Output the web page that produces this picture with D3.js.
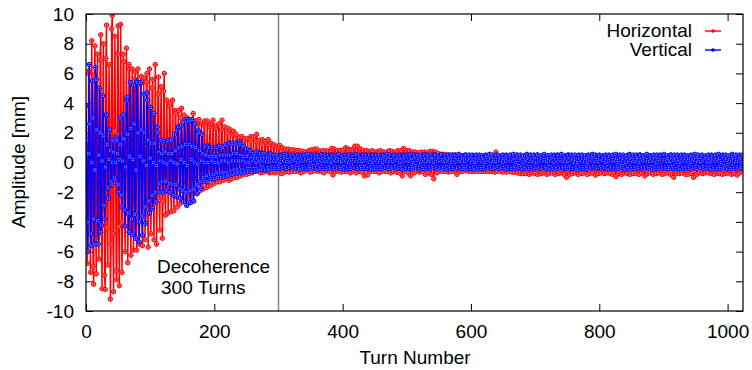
<!DOCTYPE html>
<html><head><meta charset="utf-8">
<script src="https://cdn.jsdelivr.net/npm/d3@7"></script>
<style>body{margin:0;background:#fff}svg{display:block}text{font-family:"Liberation Sans",Arial,sans-serif;fill:#000}</style>
</head><body><svg id="c" width="752" height="370"></svg>
<script>
const turnStep = 1;
const xTicks = [0, 200, 400, 600, 800, 1000];
const yTicks = [-10, -8, -6, -4, -2, 0, 2, 4, 6, 8, 10];
const seriesNames = ["Horizontal", "Vertical"];
const decoherenceTurn = 300;

// Horizontal amplitude per turn (mm)
const horizontal = [
 0.2,1.5,-6.8,-3.6,6.0,6.2,-3.8,-7.4,1.6, 8.2,1.8,-7.0,-8.2,5.9,7.85,-4.0,-7.5,1.5,
 7.3,1.4,-6.5,-4.1,6.9,8.6,-4.3,-8.5,1.7, 8.0,1.7,-7.6,-8.55,7.0,9.25,-4.4,-6.9,1.8,
 6.6,2.0,-9.2,-5.5,9.0,9.9,-4.8,-8.7,2.1, 8.5,1.5,-7.3,-7.9,7.3,9.2,-4.3,-8.3,1.9,
 9.3,1.6,-7.4,-4.0,7.3,6.8,-3.2,-6.0,1.4, 7.7,1.5,-6.75,-3.5,6.6,6.3,-3.4,-6.25,1.3,
 6.3,1.2,-5.9,-3.1,5.6,6.1,-3.3,-5.9,1.1, 6.3,1.3,-5.5,-2.9,5.3,5.8,-3.0,-5.6,1.2,
 5.7,1.1,-5.2,-2.7,5.4,6.0,-3.1,-5.7,1.0, 6.3,1.2,-4.8,-2.6,5.0,5.6,-2.8,-5.2,1.1,
 6.6,1.3,-5.5,-2.4,4.6,5.75,-2.5,-4.55,1.0, 5.1,0.9,-5.1,-2.6,4.8,6.0,-2.0,-3.55,0.8,
 4.2,0.8,-3.4,-1.9,3.8,4.0,-1.8,-3.3,0.7, 4.2,0.7,-3.25,-1.7,3.5,3.3,-1.5,-3.0,0.6,
 3.5,0.6,-2.8,-1.5,3.0,3.65,-1.4,-2.6,0.5, 3.2,0.6,-2.5,-1.3,2.8,3.0,-1.3,-2.4,0.5,
 2.9,0.5,-2.3,-1.2,2.7,3.3,-1.1,-2.0,0.6, 2.8,0.6,-2.1,-1.0,2.6,2.9,-1.0,-1.9,0.6,
 2.6,0.7,-1.8,-0.8,2.5,2.8,-0.9,-1.7,0.6, 2.8,0.7,-1.6,-0.7,2.4,2.6,-0.8,-1.5,0.5,
 2.85,0.6,-1.4,-0.6,2.3,2.5,-0.6,-1.3,0.6, 2.6,0.5,-1.3,-0.5,2.2,2.85,-0.7,-1.2,0.5,
 2.4,0.5,-1.1,-0.5,2.0,2.3,-0.6,-1.2,0.4, 2.2,0.5,-1.1,-0.4,1.9,2.1,-0.5,-1.0,0.4,
 1.9,0.4,-1.0,-0.4,1.6,1.7,-0.4,-0.9,0.4, 1.75,0.3,-0.8,-0.3,1.5,1.6,-0.4,-0.8,0.3,
 1.6,0.3,-0.75,-0.3,1.5,1.75,-0.3,-0.7,0.3, 1.7,0.4,-0.6,-0.2,1.4,1.9,-0.3,-0.6,0.3,
 1.5,0.3,-0.7,-0.2,1.3,1.55,-0.3,-0.65,0.3, 1.4,0.3,-0.6,-0.2,1.2,1.55,-0.2,-0.7,0.3,
 1.3,0.3,-0.65,-0.2,1.1,1.2,-0.2,-0.7,0.2, 1.1,0.2,-0.6,-0.2,1.0,1.15,-0.2,-0.75,0.2,
 1.0,0.2,-0.7,-0.3,0.8,0.9,-0.3,-0.6,0.2, 0.9,0.2,-0.65,-0.3,0.8,0.85,-0.2,-0.6,0.2,
 0.85,0.2,-0.6,-0.2,0.7,0.8,-0.3,-0.6,0.2, 0.8,0.1,-0.7,-0.3,0.6,0.75,-0.2,-0.6,0.3,
 0.7,0.2,-0.5,-0.2,0.65,0.8,-0.3,-0.65,0.1, 0.85,0.2,-0.6,-0.3,0.7,0.9,-0.2,-0.55,0.2,
 0.9,0.1,-0.6,-0.3,0.7,0.75,-0.2,-0.6,0.2, 0.8,0.2,-0.7,-0.3,0.6,0.8,-0.2,-0.55,0.1,
 0.75,0.1,-0.6,-0.2,0.7,0.95,-0.3,-0.84,0.2, 0.9,0.2,-0.6,-0.2,0.7,0.8,-0.3,-0.6,0.2,
 0.8,0.1,-0.65,-0.3,0.7,0.85,-0.2,-0.6,0.2, 1.0,0.2,-0.6,-0.3,0.9,0.8,-0.3,-0.7,0.2,
 0.85,0.2,-0.6,-0.2,1.0,1.1,-0.3,-0.7,0.1, 1.1,0.2,-0.6,-0.2,0.8,0.9,-0.3,-0.65,0.2,
 0.8,0.2,-0.9,-0.3,0.7,0.8,-0.4,-0.84,0.1, 0.75,0.2,-0.6,-0.3,0.7,0.8,-0.2,-0.6,0.2,
 0.7,0.1,-0.6,-0.2,0.6,0.75,-0.3,-0.7,0.2, 0.8,0.1,-0.6,-0.3,0.6,0.7,-0.2,-0.6,0.2,
 0.7,0.2,-0.6,-0.2,0.65,0.8,-0.3,-0.7,0.1, 0.75,0.2,-0.6,-0.2,0.6,0.7,-0.3,-0.65,0.2,
 0.8,0.1,-0.7,-0.3,0.7,0.8,-0.3,-0.9,0.2, 0.95,0.2,-0.6,-0.3,0.7,0.8,-0.2,-0.7,0.1,
 0.8,0.2,-0.9,-0.3,0.6,0.7,-0.3,-0.7,0.2, 0.7,0.1,-0.6,-0.2,0.6,0.65,-0.3,-0.65,0.2,
 0.7,0.2,-0.6,-0.3,0.6,0.7,-0.3,-0.8,0.1, 0.65,0.1,-0.7,-0.3,0.6,0.75,-0.3,-0.8,0.1,
 0.75,0.1,-1.1,-0.4,0.6,0.7,-0.3,-0.7,0.1, 0.6,0.1,-0.6,-0.3,0.5,0.55,-0.3,-0.6,0.1,
 0.55,0.1,-0.6,-0.3,0.5,0.5,-0.3,-0.65,0.0, 0.5,0.1,-0.6,-0.3,0.45,0.5,-0.3,-0.6,0.1,
 0.5,0.0,-0.8,-0.3,0.4,0.5,-0.3,-0.6,0.0, 0.45,0.0,-0.6,-0.3,0.4,0.45,-0.3,-0.55,0.0,
 0.4,0.0,-0.6,-0.3,0.35,0.4,-0.35,-0.6,0.0, 0.4,-0.1,-0.6,-0.3,0.3,0.4,-0.3,-0.6,0.0,
 0.35,-0.1,-0.6,-0.35,0.3,0.4,-0.3,-0.6,0.0, 0.4,0.0,-0.6,-0.35,0.3,0.35,-0.3,-0.6,-0.1,
 0.3,-0.1,-0.6,-0.4,0.3,0.4,-0.3,-0.65,0.0, 0.7,0.0,-0.6,-0.4,0.3,0.35,-0.35,-0.6,-0.1,
 0.3,-0.1,-0.65,-0.4,0.25,0.3,-0.35,-0.65,-0.1, 0.3,-0.1,-0.6,-0.4,0.2,0.3,-0.4,-0.65,-0.1,
 0.25,-0.1,-0.65,-0.45,0.2,0.5,-0.4,-0.7,-0.1, 0.25,-0.15,-0.75,-0.45,0.2,0.25,-0.4,-0.75,-0.1,
 0.2,-0.2,-0.75,-0.5,0.2,0.25,-0.45,-0.8,-0.1, 0.2,-0.2,-0.7,-0.5,0.15,0.2,-0.4,-0.75,-0.15,
 0.2,-0.2,-0.8,-0.5,0.1,0.2,-0.45,-0.75,-0.2, 0.15,-0.2,-0.7,-0.5,0.2,0.25,-0.45,-0.8,-0.1,
 0.2,-0.2,-0.75,-0.5,0.15,0.2,-0.4,-0.7,-0.15, 0.2,-0.15,-0.8,-0.5,0.2,0.25,-0.45,-0.75,-0.1,
 0.2,-0.2,-0.7,-0.5,0.15,0.2,-0.45,-0.8,-0.15, 0.25,-0.2,-1.0,-0.55,0.2,0.2,-0.4,-0.8,-0.1,
 0.2,-0.2,-0.75,-0.5,0.15,0.25,-0.45,-0.7,-0.1, 0.2,-0.2,-0.8,-0.5,0.2,0.2,-0.4,-0.75,-0.15,
 0.25,-0.15,-0.7,-0.5,0.2,0.25,-0.45,-0.8,-0.1, 0.2,-0.2,-0.75,-0.5,0.15,0.2,-0.4,-0.7,-0.1,
 0.2,-0.2,-0.85,-0.5,0.2,0.3,-0.4,-0.75,-0.1, 0.3,-0.1,-0.7,-0.45,0.35,0.4,-0.4,-0.75,-0.1,
 0.4,-0.1,-0.7,-0.45,0.3,0.35,-0.4,-0.75,-0.1, 0.25,-0.15,-0.8,-0.5,0.2,0.25,-0.45,-0.95,-0.1,
 0.2,-0.2,-0.75,-0.5,0.2,0.2,-0.45,-0.8,-0.15, 0.2,-0.2,-0.7,-0.5,0.15,0.2,-0.4,-0.75,-0.1,
 0.2,-0.2,-0.8,-0.5,0.2,0.25,-0.45,-0.75,-0.1, 0.2,-0.2,-0.75,-0.5,0.15,0.2,-0.4,-0.8,-0.15,
 0.25,-0.2,-0.7,-0.5,0.2,0.2,-0.45,-0.9,-0.1, 0.2,-0.2,-0.75,-0.5,0.2,0.25,-0.4,-0.7,-0.1,
 0.2,-0.15,-0.8,-0.5,0.15,0.2,-0.45,-0.75,-0.1, 0.25,-0.2,-0.7,-0.5,0.2,0.2,-0.4,-0.8,-0.15,
 0.2,-0.2,-0.75,-0.5,0.2,0.25,-0.45,-0.7,-0.1, 0.2,-0.2,-0.8,-0.55,0.15,0.2,-0.45,-1.0,-0.1,
 0.2,-0.2,-0.75,-0.5,0.2,0.2,-0.4,-0.75,-0.1, 0.25,-0.15,-0.7,-0.5,0.2,0.25,-0.45,-0.8,-0.1,
 0.2,-0.2,-0.8,-0.5,0.15,0.2,-0.45,-0.75,-0.15, 0.2,-0.2,-1.0,-0.55,0.2,0.25,-0.4,-0.8,-0.1,
 0.25,-0.2,-0.7,-0.5,0.2,0.3,-0.4,-0.75,-0.1, 0.3,-0.1,-0.7,-0.45,0.35,0.4,-0.4,-0.7,-0.1,
 0.3,-0.15,-0.75,-0.5,0.25,0.3,-0.45,-0.8,-0.1, 0.2,-0.2,-0.75,-0.5,0.2,0.25,-0.4,-0.75,-0.1,
 0.25,-0.2,-0.8,-0.5,0.2,0.2,-0.45,-0.75,-0.15, 0.2,-0.2,-0.7,-0.5,0.2,0.25,-0.4,-0.8,-0.1,
 0.2,-0.2,-0.75,-0.5,0.2,0.2,-0.45,-0.85,-0.1, 0.25,-0.2,-0.7,-0.5,0.2,0.2,-0.4
];

// Vertical amplitude per turn (mm)
const vertical = [
 3.8,1.5,-4.0,-6.0,0.6,6.6,2.6,-4.8,-5.6,0.0,5.5,3.0,-3.8,-5.5,-0.5,6.4,
 5.6,2.2,-3.9,-5.5,0.5,5.0,2.0,-4.7,-4.2,0.1,4.5,1.8,-2.9,-3.8,-0.3,3.2,
 3.2,1.2,-1.7,-2.4,0.2,2.2,0.8,-1.3,-1.5,0.0,1.5,0.7,-1.0,-1.1,0.0,1.65,
 1.5,0.6,-1.5,-2.0,0.2,3.0,1.2,-2.2,-3.0,0.1,3.2,1.6,-3.2,-4.3,-0.3,4.2,
 4.4,1.9,-3.4,-4.7,0.4,5.4,2.3,-3.8,-4.85,0.2,5.2,2.6,-3.5,-5.1,-0.5,5.5,
 5.4,2.0,-4.0,-5.35,0.4,5.4,2.2,-3.6,-4.9,0.1,4.6,2.0,-3.0,-4.1,-0.2,4.7,
 4.2,1.5,-2.6,-3.4,0.3,3.7,1.3,-2.2,-3.1,0.0,3.3,1.3,-2.0,-2.65,-0.2,2.4,
 2.0,0.7,-1.4,-2.0,0.1,1.5,0.6,-1.3,-2.0,0.0,1.4,0.7,-1.3,-1.9,-0.1,1.4,
 1.5,0.6,-1.4,-2.0,0.1,1.5,0.6,-1.5,-2.2,0.0,1.9,0.8,-1.5,-2.3,-0.1,2.3,
 2.4,1.0,-1.8,-2.4,0.2,2.5,1.1,-1.9,-2.65,0.0,2.85,1.2,-2.0,-2.9,-0.2,2.9,
 2.8,1.2,-1.9,-2.7,0.2,2.9,1.1,-1.8,-2.6,0.0,2.6,1.0,-1.5,-2.1,-0.1,2.15,
 2.0,0.8,-1.3,-1.75,0.1,1.9,0.6,-1.0,-1.3,0.0,1.1,0.5,-0.9,-1.3,0.0,1.1,
 1.0,0.4,-0.8,-1.1,0.1,1.0,0.4,-0.8,-1.1,0.0,1.0,0.4,-0.7,-1.0,0.0,1.1,
 1.1,0.5,-0.7,-1.0,0.1,1.0,0.5,-0.7,-0.95,0.1,1.2,0.5,-0.7,-0.9,0.0,1.3,
 1.3,0.5,-0.6,-0.8,0.1,1.3,0.6,-0.5,-0.75,0.1,1.3,0.6,-0.5,-0.7,0.1,1.4,
 1.2,0.5,-0.5,-0.7,0.1,1.1,0.4,-0.5,-0.65,0.0,0.9,0.4,-0.4,-0.6,0.0,0.8,
 0.75,0.3,-0.4,-0.6,0.1,0.6,0.3,-0.4,-0.55,0.0,0.7,0.3,-0.4,-0.5,0.1,0.65,
 0.6,0.3,-0.35,-0.5,0.1,0.6,0.3,-0.4,-0.5,0.05,0.55,0.3,-0.35,-0.5,0.05,0.6,
 0.5,0.25,-0.3,-0.4,0.1,0.5,0.25,-0.3,-0.4,0.05,0.45,0.25,-0.25,-0.4,0.0,0.5,
 0.45,0.2,-0.3,-0.35,0.1,0.55,0.3,-0.25,-0.4,0.05,0.5,0.2,-0.3,-0.35,0.05,0.45,
 0.5,0.2,-0.25,-0.4,0.15,0.45,0.3,-0.3,-0.35,0.0,0.5,0.25,-0.3,-0.45,0.05,0.5,
 0.4,0.15,-0.3,-0.4,0.1,0.5,0.2,-0.35,-0.4,0.1,0.55,0.25,-0.25,-0.4,0.0,0.45,
 0.5,0.3,-0.2,-0.35,0.15,0.5,0.25,-0.3,-0.45,0.0,0.45,0.2,-0.3,-0.4,0.1,0.55,
 0.45,0.25,-0.3,-0.4,0.05,0.5,0.2,-0.3,-0.4,0.05,0.5,0.3,-0.25,-0.35,0.0,0.5,
 0.5,0.2,-0.3,-0.4,0.1,0.45,0.25,-0.3,-0.35,0.1,0.55,0.2,-0.3,-0.4,0.05,0.45,
 0.45,0.25,-0.25,-0.45,0.1,0.5,0.3,-0.3,-0.4,0.0,0.5,0.2,-0.3,-0.4,0.1,0.5,
 0.4,0.2,-0.3,-0.35,0.1,0.55,0.2,-0.3,-0.4,0.05,0.45,0.25,-0.25,-0.4,0.05,0.5,
 0.5,0.25,-0.25,-0.4,0.15,0.5,0.25,-0.35,-0.4,0.0,0.5,0.2,-0.3,-0.45,0.0,0.45,
 0.5,0.25,-0.3,-0.4,0.1,0.5,0.25,-0.3,-0.4,0.05,0.45,0.25,-0.25,-0.4,0.0,0.5,
 0.45,0.2,-0.3,-0.35,0.1,0.55,0.3,-0.25,-0.4,0.05,0.5,0.2,-0.3,-0.35,0.05,0.45,
 0.5,0.2,-0.25,-0.4,0.15,0.45,0.3,-0.3,-0.35,0.0,0.5,0.25,-0.3,-0.45,0.05,0.5,
 0.4,0.15,-0.3,-0.4,0.1,0.5,0.2,-0.35,-0.4,0.1,0.55,0.25,-0.25,-0.4,0.0,0.45,
 0.5,0.3,-0.2,-0.35,0.15,0.5,0.25,-0.3,-0.45,0.0,0.45,0.2,-0.3,-0.4,0.1,0.55,
 0.45,0.25,-0.3,-0.4,0.05,0.5,0.2,-0.3,-0.4,0.05,0.5,0.3,-0.25,-0.35,0.0,0.5,
 0.5,0.2,-0.3,-0.4,0.1,0.45,0.25,-0.3,-0.35,0.1,0.55,0.2,-0.3,-0.4,0.05,0.45,
 0.45,0.25,-0.25,-0.45,0.1,0.5,0.3,-0.3,-0.4,0.0,0.5,0.2,-0.3,-0.4,0.1,0.5,
 0.4,0.2,-0.3,-0.35,0.1,0.55,0.2,-0.3,-0.4,0.05,0.45,0.25,-0.25,-0.4,0.05,0.5,
 0.5,0.25,-0.25,-0.4,0.15,0.5,0.25,-0.35,-0.4,0.0,0.5,0.2,-0.3,-0.45,0.0,0.45,
 0.5,0.25,-0.3,-0.4,0.1,0.5,0.25,-0.3,-0.4,0.05,0.45,0.25,-0.25,-0.4,0.0,0.5,
 0.45,0.2,-0.3,-0.35,0.1,0.55,0.3,-0.25,-0.4,0.05,0.5,0.2,-0.3,-0.35,0.05,0.45,
 0.5,0.2,-0.25,-0.4,0.15,0.45,0.3,-0.3,-0.35,0.0,0.5,0.25,-0.3,-0.45,0.05,0.5,
 0.4,0.15,-0.3,-0.4,0.1,0.5,0.2,-0.35,-0.4,0.1,0.55,0.25,-0.25,-0.4,0.0,0.45,
 0.5,0.3,-0.2,-0.35,0.15,0.5,0.25,-0.3,-0.45,0.0,0.45,0.2,-0.3,-0.4,0.1,0.55,
 0.45,0.25,-0.3,-0.4,0.05,0.5,0.2,-0.3,-0.4,0.05,0.5,0.3,-0.25,-0.35,0.0,0.5,
 0.5,0.2,-0.3,-0.4,0.1,0.45,0.25,-0.3,-0.35,0.1,0.55,0.2,-0.3,-0.4,0.05,0.45,
 0.45,0.25,-0.25,-0.45,0.1,0.5,0.3,-0.3,-0.4,0.0,0.5,0.2,-0.3,-0.4,0.1,0.5,
 0.4,0.2,-0.3,-0.35,0.1,0.55,0.2,-0.3,-0.4,0.05,0.45,0.25,-0.25,-0.4,0.05,0.5,
 0.5,0.25,-0.25,-0.4,0.15,0.5,0.25,-0.35,-0.4,0.0,0.5,0.2,-0.3,-0.45,0.0,0.45,
 0.5,0.25,-0.3,-0.4,0.1,0.5,0.25,-0.3,-0.4,0.05,0.45,0.25,-0.25,-0.4,0.0,0.5,
 0.45,0.2,-0.3,-0.35,0.1,0.55,0.3,-0.25,-0.4,0.05,0.5,0.2,-0.3,-0.35,0.05,0.45,
 0.5,0.2,-0.25,-0.4,0.15,0.45,0.3,-0.3,-0.35,0.0,0.5,0.25,-0.3,-0.45,0.05,0.5,
 0.4,0.15,-0.3,-0.4,0.1,0.5,0.2,-0.35,-0.4,0.1,0.55,0.25,-0.25,-0.4,0.0,0.45,
 0.5,0.3,-0.2,-0.35,0.15,0.5,0.25,-0.3,-0.45,0.0,0.45,0.2,-0.3,-0.4,0.1,0.55,
 0.45,0.25,-0.3,-0.4,0.05,0.5,0.2,-0.3,-0.4,0.05,0.5,0.3,-0.25,-0.35,0.0,0.5,
 0.5,0.2,-0.3,-0.4,0.1,0.45,0.25,-0.3,-0.35,0.1,0.55,0.2,-0.3,-0.4,0.05,0.45,
 0.45,0.25,-0.25,-0.45,0.1,0.5,0.3,-0.3,-0.4,0.0,0.5,0.2,-0.3,-0.4,0.1,0.5,
 0.4,0.2,-0.3,-0.35,0.1,0.55,0.2,-0.3,-0.4,0.05,0.45,0.25,-0.25,-0.4,0.05,0.5,
 0.5,0.25,-0.25,-0.4,0.15,0.5,0.25,-0.35,-0.4,0.0,0.5,0.2,-0.3,-0.45,0.0,0.45,
 0.5,0.25,-0.3,-0.4,0.1,0.5,0.25,-0.3,-0.4,0.05,0.45,0.25,-0.25,-0.4,0.0,0.5,
 0.45,0.2,-0.3,-0.35,0.1,0.55,0.3,-0.25,-0.4,0.05,0.5,0.2,-0.3,-0.35,0.05,0.45,
 0.5,0.2,-0.25,-0.4,0.15,0.45,0.3,-0.3,-0.35,0.0,0.5,0.25,-0.3,-0.45,0.05,0.5,
 0.4,0.15,-0.3,-0.4,0.1,0.5,0.2,-0.35,-0.4,0.1,0.55,0.25,-0.25,-0.4,0.0,0.45,
 0.5,0.3,-0.2,-0.35,0.15,0.5,0.25,-0.3,-0.45,0.0,0.45,0.2,-0.3,-0.4,0.1,0.55,
 0.45,0.25,-0.3,-0.4,0.05,0.5,0.2,-0.3,-0.4,0.05,0.5,0.3,-0.25,-0.35,0.0,0.5
];

const colors = ["#ff0000", "#0000ff"];
const markerFill = ["#ffb3b3", "#b3b3ff"];
const FS = "19px";
const svg = d3.select("#c");
const L = 86, R = 743, T = 14, B = 311;
const x = d3.scaleLinear().domain([0, 1024]).range([L, R]);
const y = d3.scaleLinear().domain([-10, 10]).range([B, T]);
const fmt = d => String(d);

svg.append("defs").append("clipPath").attr("id", "clip")
  .append("rect").attr("x", L).attr("y", T).attr("width", R - L).attr("height", B - T);

const axB = svg.append("g").attr("transform", `translate(0,${B})`)
  .call(d3.axisBottom(x).tickValues(xTicks).tickSizeInner(-7).tickSizeOuter(0).tickPadding(13.5).tickFormat(fmt));
const axT = svg.append("g").attr("transform", `translate(0,${T})`)
  .call(d3.axisTop(x).tickValues(xTicks).tickSizeInner(-7).tickSizeOuter(0).tickFormat(""));
const axL = svg.append("g").attr("transform", `translate(${L},0)`)
  .call(d3.axisLeft(y).tickValues(yTicks).tickSizeInner(-7).tickSizeOuter(0).tickPadding(12).tickFormat(fmt));
const axR = svg.append("g").attr("transform", `translate(${R},0)`)
  .call(d3.axisRight(y).tickValues(yTicks).tickSizeInner(-7).tickSizeOuter(0).tickFormat(""));
[axB, axT, axL, axR].forEach(g => {
  g.select(".domain").remove();
  g.selectAll("line").attr("stroke", "#000").attr("stroke-width", 1);
  g.selectAll("text").style("font-size", FS).style("font-family", '"Liberation Sans",Arial,sans-serif').attr("fill", "#000");
});

svg.append("line").attr("x1", x(decoherenceTurn)).attr("x2", x(decoherenceTurn))
  .attr("y1", T).attr("y2", B).attr("stroke", "#808080").attr("stroke-width", 1.5);

const plot = svg.append("g").attr("clip-path", "url(#clip)");
[horizontal, vertical].forEach((vals, si) => {
  const pts = vals.map((v, i) => [i * turnStep, v]);
  const c = colors[si];
  const g = plot.append("g");
  g.append("path").datum(pts)
    .attr("d", d3.line().x(d => x(d[0])).y(d => y(d[1])))
    .attr("fill", "none").attr("stroke", c).attr("stroke-width", 1.5);
  const m = g.selectAll("g.m").data(pts).join("g")
    .attr("transform", d => `translate(${x(d[0])},${y(d[1])})`);
  m.append("circle").attr("r", 2.2).attr("fill", markerFill[si]).attr("stroke", c).attr("stroke-width", 1);
  m.append("path").attr("d", "M-2.4,0H2.4M0,-2.4V2.4").attr("stroke", c).attr("stroke-width", 0.8);
});

svg.append("rect").attr("x", L).attr("y", T).attr("width", R - L).attr("height", B - T)
  .attr("fill", "none").attr("stroke", "#000").attr("stroke-width", 1.2);

seriesNames.forEach((n, i) => {
  const ly = 31 + i * 19;
  svg.append("text").attr("x", 692).attr("y", ly + 6).attr("text-anchor", "end")
    .style("font-size", FS).text(n);
  svg.append("line").attr("x1", 705).attr("x2", 721).attr("y1", ly).attr("y2", ly)
    .attr("stroke", colors[i]).attr("stroke-width", 1.4);
  svg.append("circle").attr("cx", 713).attr("cy", ly).attr("r", 1.8).attr("fill", colors[i]);
});

svg.append("text").attr("x", 157).attr("y", 273).style("font-size", FS).text("Decoherence");
svg.append("text").attr("x", 161).attr("y", 294).style("font-size", FS).text("300 Turns");

svg.append("text").attr("x", 415).attr("y", 364).attr("text-anchor", "middle").style("font-size", FS).text("Turn Number");
svg.append("text").attr("transform", "translate(25,162) rotate(-90)").attr("text-anchor", "middle")
  .style("font-size", FS).text("Amplitude [mm]");
</script></body></html>
